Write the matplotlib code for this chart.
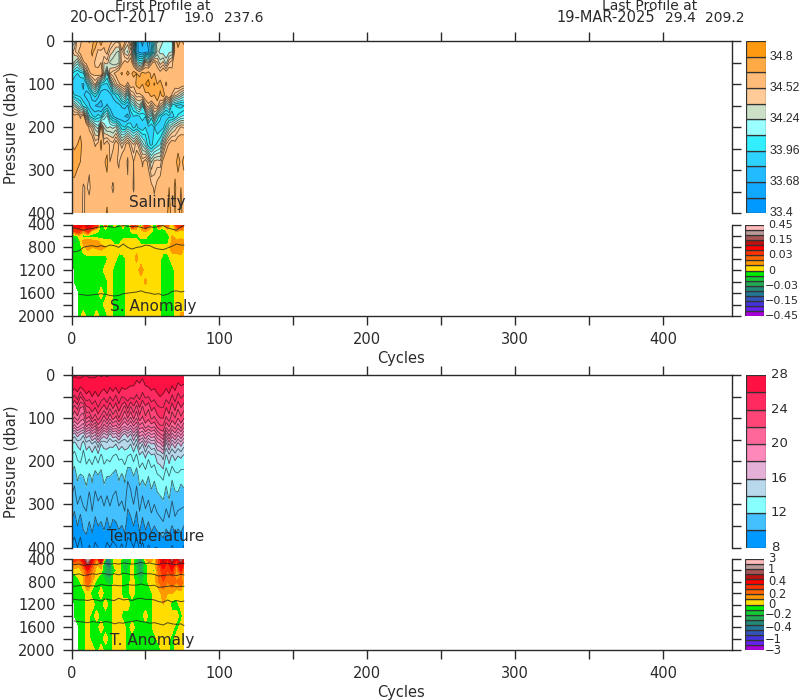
import numpy as np
import matplotlib
matplotlib.use('Agg')
import matplotlib.pyplot as plt

plt.rcParams['font.family'] = ['DejaVu Sans']

upper_cycles = list(range(0, 77, 2))
deep_cycles = [0, 2, 5, 8, 11, 14, 17, 20, 23, 26, 29, 32, 35, 38, 41, 44, 47, 50, 53, 56, 59, 62, 65, 68, 71, 74, 76]
salinity_depths = [0, 25, 50, 75, 100, 125, 150, 175, 200, 240, 280, 340, 400]
temperature_depths = [0, 25, 50, 75, 100, 120, 138, 160, 188, 235, 280, 340, 400]
deep_depths = [400, 500, 600, 700, 800, 1000, 1200, 1400, 1600, 1800, 2000]

salinity_by_cycle = [
 [34.25,34.35,34.45,34.05,33.95,33.98,34.40,34.60,34.62,34.66,34.72,34.62,34.62],
 [34.28,34.42,34.30,33.98,33.92,33.96,34.30,34.55,34.60,34.62,34.75,34.60,34.60],
 [34.50,34.50,34.20,33.96,33.90,33.94,34.20,34.62,34.58,34.66,34.70,34.56,34.66],
 [34.48,34.56,34.35,34.00,33.90,33.92,34.12,34.50,34.60,34.72,34.66,34.62,34.60],
 [34.60,34.62,34.50,34.02,33.88,33.90,34.00,34.60,34.55,34.58,34.64,34.50,34.48],
 [34.52,34.55,34.55,34.30,33.94,33.86,33.96,34.30,34.62,34.56,34.60,34.54,34.58],
 [34.68,34.56,34.58,34.50,34.10,33.86,33.90,34.05,34.50,34.62,34.56,34.48,34.62],
 [34.55,34.70,34.60,34.55,34.28,33.94,33.84,33.98,34.40,34.64,34.52,34.60,34.66],
 [34.82,34.58,34.50,34.55,34.40,34.00,33.82,33.94,34.28,34.50,34.66,34.58,34.60],
 [34.60,34.50,34.45,34.60,34.20,33.92,33.80,34.00,34.20,34.56,34.62,34.66,34.58],
 [34.78,34.48,34.52,34.62,33.98,33.84,33.80,33.96,34.55,34.70,34.58,34.54,34.64],
 [34.55,34.50,34.38,34.35,33.96,33.82,33.84,34.12,34.30,34.52,34.64,34.62,34.60],
 [34.62,34.55,34.42,34.10,33.95,33.84,33.90,34.20,34.22,34.60,34.70,34.60,34.68],
 [34.58,34.42,34.30,34.45,34.05,33.86,33.85,34.00,34.25,34.50,34.52,34.56,34.56],
 [34.50,34.38,34.26,34.50,34.30,33.92,33.82,33.90,34.22,34.48,34.60,34.50,34.60],
 [34.46,34.32,34.25,34.55,34.42,33.98,33.84,33.84,34.26,34.60,34.54,34.56,34.64],
 [34.48,34.30,34.30,34.62,34.50,34.05,33.86,33.82,34.10,34.52,34.50,34.58,34.58],
 [34.66,34.50,34.48,34.68,34.55,34.20,33.90,33.84,33.98,34.40,34.62,34.52,34.62],
 [34.55,34.34,34.56,34.60,34.60,34.30,33.92,33.82,33.96,34.50,34.58,34.62,34.52],
 [34.42,34.30,34.52,34.70,34.48,34.10,33.88,33.80,34.05,34.58,34.50,34.54,34.60],
 [34.60,34.42,34.60,34.62,34.60,34.36,34.02,33.90,34.00,34.46,34.66,34.60,34.56],
 [34.30,34.12,34.40,34.72,34.55,34.42,34.10,33.96,33.94,34.38,34.52,34.50,34.62],
 [33.80,33.78,34.20,34.66,34.70,34.50,34.24,33.92,33.98,34.50,34.56,34.64,34.56],
 [33.70,33.72,34.10,34.60,34.78,34.48,34.30,33.96,33.92,34.36,34.62,34.54,34.60],
 [33.66,33.70,34.12,34.72,34.66,34.55,34.10,34.00,33.90,34.22,34.50,34.60,34.66],
 [33.72,33.72,34.40,34.66,34.80,34.62,34.40,33.96,33.96,34.12,34.58,34.52,34.58],
 [33.78,33.74,34.30,34.72,34.86,34.60,34.50,34.20,33.94,33.98,34.48,34.62,34.60],
 [33.92,33.86,34.50,34.62,34.70,34.72,34.36,34.05,33.92,33.94,34.30,34.56,34.64],
 [34.10,34.05,34.55,34.66,34.82,34.66,34.50,34.30,33.96,34.00,34.40,34.50,34.58],
 [34.32,34.26,34.46,34.60,34.66,34.78,34.56,34.10,33.90,34.05,34.42,34.56,34.66],
 [34.28,34.22,34.34,34.56,34.72,34.62,34.42,33.98,33.92,34.10,34.40,34.62,34.60],
 [34.24,34.20,34.40,34.64,34.60,34.74,34.30,33.92,33.94,34.30,34.56,34.54,34.66],
 [34.20,34.18,34.28,34.58,34.68,34.56,34.12,33.90,34.06,34.46,34.62,34.60,34.62],
 [34.18,34.22,34.44,34.62,34.58,34.66,34.20,33.94,34.20,34.54,34.58,34.66,34.70],
 [34.16,34.24,34.50,34.54,34.66,34.50,34.00,33.92,34.28,34.60,34.66,34.60,34.62],
 [34.60,34.56,34.60,34.62,34.58,34.42,33.96,33.98,34.34,34.56,34.62,34.68,34.66],
 [34.72,34.62,34.52,34.66,34.64,34.36,33.94,34.05,34.40,34.62,34.70,34.60,34.64],
 [34.64,34.60,34.58,34.54,34.60,34.30,33.92,34.10,34.46,34.60,34.64,34.66,34.68],
 [34.70,34.58,34.62,34.60,34.58,34.22,33.96,34.12,34.44,34.62,34.68,34.62,34.62],
]

temperature_by_cycle = [
 [27.2,26.6,25.6,23.6,22.0,19.4,16.0,14.0,13.0,11.8,11.0,10.0,8.8],
 [27.1,26.4,24.8,22.6,20.8,18.4,15.4,13.6,12.6,11.4,10.6,9.6,8.6],
 [27.2,26.5,25.6,23.4,21.6,19.4,16.6,14.2,13.2,12.2,11.4,10.2,9.0],
 [27.3,26.2,24.0,22.0,20.6,18.8,15.8,14.4,13.6,11.8,11.0,9.6,8.6],
 [27.1,26.4,25.2,21.8,20.2,18.2,15.2,13.4,12.6,12.0,11.4,10.4,9.2],
 [27.0,26.6,25.8,23.8,22.2,20.0,16.8,14.6,13.4,12.4,11.6,10.6,9.4],
 [27.2,26.5,25.4,24.0,21.6,19.2,16.2,14.2,13.2,11.8,10.8,10.0,8.9],
 [27.1,26.7,26.0,24.6,23.2,20.6,17.8,15.0,13.6,12.2,11.6,10.6,9.2],
 [27.2,26.4,25.6,24.0,22.4,19.6,17.0,14.2,13.0,11.6,10.8,9.8,8.8],
 [27.0,26.6,26.0,25.0,23.4,21.6,18.8,15.6,13.6,11.9,11.2,10.2,9.0],
 [27.1,26.5,25.6,24.2,22.6,20.8,17.6,14.0,12.8,11.6,11.0,10.0,9.1],
 [27.0,26.3,25.2,23.6,21.4,19.4,16.4,14.4,13.4,12.4,11.4,10.4,9.2],
 [27.1,26.5,25.8,24.4,22.6,20.2,17.2,14.6,13.2,12.0,11.0,9.8,8.8],
 [27.0,26.2,25.0,23.2,21.2,18.8,15.6,14.2,13.4,12.0,11.4,10.4,9.0],
 [26.8,26.4,25.6,24.2,22.4,20.0,16.8,14.4,13.0,11.8,11.0,9.9,8.7],
 [26.9,26.2,24.8,23.4,21.6,19.6,16.6,14.0,12.8,11.6,10.8,10.0,8.9],
 [26.8,26.5,25.8,24.6,23.0,20.6,17.8,14.8,13.2,12.2,11.4,10.4,9.1],
 [26.7,26.2,25.0,23.6,22.0,19.4,16.4,14.2,13.2,11.8,11.2,10.2,8.8],
 [26.6,26.3,25.4,22.6,20.8,18.8,15.6,14.4,13.6,12.2,11.6,10.6,9.2],
 [26.5,26.1,25.6,24.2,22.0,19.6,16.6,14.6,13.0,11.2,10.4,9.6,8.6],
 [26.6,26.0,25.2,22.8,20.8,18.6,15.8,14.0,12.8,11.4,10.8,9.8,8.7],
 [26.4,26.0,25.4,23.8,22.2,19.8,17.4,15.2,13.4,12.0,11.4,10.2,9.0],
 [26.2,25.8,24.8,22.6,21.0,18.8,16.0,14.0,12.8,11.4,10.6,9.6,8.6],
 [26.3,25.9,25.4,24.0,22.6,20.6,18.6,16.0,13.8,12.4,11.6,10.6,9.1],
 [26.2,25.6,24.6,22.8,21.8,20.2,18.0,15.0,13.4,12.2,11.0,9.8,8.8],
 [26.4,26.0,25.2,23.8,22.8,21.4,19.2,16.6,14.2,12.4,11.6,10.4,9.2],
 [26.6,26.1,25.0,23.2,22.2,20.8,18.2,15.2,13.2,12.0,11.2,10.0,8.9],
 [26.7,26.3,25.6,24.4,23.2,21.4,19.0,16.0,13.8,12.4,11.8,10.6,9.1],
 [26.8,26.2,25.4,24.0,22.8,21.0,18.6,15.8,13.6,12.2,11.4,10.2,9.0],
 [26.9,26.4,25.8,24.8,23.6,22.2,20.0,17.4,14.6,12.8,11.8,10.6,9.0],
 [27.0,26.6,26.0,25.0,24.0,22.8,20.8,17.8,14.8,13.0,12.0,10.8,9.2],
 [26.9,26.5,25.8,25.0,24.0,22.8,21.4,18.8,15.4,13.2,12.2,11.0,9.4],
 [26.8,26.2,25.4,24.0,22.8,21.2,18.6,15.6,13.8,12.4,11.6,10.4,9.0],
 [26.9,26.5,25.8,24.6,23.6,22.0,20.4,17.4,14.6,13.0,12.2,10.8,9.2],
 [26.7,26.0,24.8,23.4,22.4,20.8,18.6,15.8,13.8,12.2,11.2,10.2,8.9],
 [26.8,26.3,25.6,24.4,23.0,21.6,19.6,16.8,14.4,12.6,11.8,10.8,9.1],
 [26.5,25.8,24.6,23.2,22.0,20.4,18.2,15.6,14.0,12.8,11.8,10.4,9.0],
 [26.4,26.0,25.2,24.0,22.8,21.4,19.2,16.4,14.2,12.4,11.4,10.6,9.2],
 [26.6,25.9,24.8,23.4,22.0,20.2,18.0,15.4,13.8,12.6,11.6,10.2,8.9],
]

nan = float('nan')
salinity_anomaly_by_cycle = [
 [0.06,0.03,-0.005,-0.005,-0.005,-0.005,nan,nan,nan,nan,nan],
 [0.09,0.04,-0.01,-0.015,-0.005,-0.005,-0.005,-0.005,nan,nan,nan],
 [0.12,0.05,0.005,-0.01,-0.005,-0.005,-0.005,-0.005,-0.005,-0.005,-0.005],
 [0.08,0.02,-0.005,0.015,0.005,-0.005,-0.005,-0.005,-0.005,-0.005,0.005],
 [0.15,0.05,-0.005,0.02,0.015,-0.005,-0.005,-0.005,-0.005,-0.005,-0.005],
 [0.10,0.01,-0.005,0.015,0.01,-0.005,-0.005,-0.005,-0.005,-0.005,-0.005],
 [0.05,0.005,-0.008,0.015,0.012,-0.005,-0.005,-0.005,-0.005,-0.005,0.005],
 [-0.02,-0.005,-0.005,0.005,0.015,-0.005,-0.005,-0.005,0.005,-0.005,-0.005],
 [0.03,-0.005,-0.008,0.005,0.01,-0.005,0.005,-0.005,-0.005,0.005,-0.005],
 [-0.03,-0.008,-0.008,0.005,0.005,0.005,0.005,0.005,0.005,0.005,0.005],
 [0.01,-0.008,-0.008,-0.005,0.005,0.005,-0.005,-0.005,-0.005,-0.005,-0.005],
 [-0.01,-0.008,-0.008,-0.005,0.005,-0.005,-0.005,-0.005,-0.005,-0.005,-0.005],
 [0.02,-0.008,-0.005,0.005,0.01,-0.005,-0.005,-0.005,-0.005,-0.005,-0.005],
 [-0.04,-0.008,-0.005,0.005,0.005,0.005,0.005,0.005,0.005,0.005,0.005],
 [0.06,0.005,-0.005,0.005,0.01,0.005,0.005,0.005,0.005,0.005,0.005],
 [0.03,0.005,-0.005,0.005,0.008,0.012,0.005,0.005,0.005,0.005,0.005],
 [-0.02,0.01,0.005,-0.005,0.005,0.005,0.015,0.005,0.005,0.005,0.005],
 [0.06,0.012,0.005,-0.005,0.005,0.005,0.005,0.012,0.005,0.005,0.005],
 [0.02,0.008,-0.005,-0.005,0.005,0.005,0.005,0.005,0.005,0.005,0.005],
 [-0.02,-0.005,-0.005,-0.005,0.005,0.005,0.005,0.005,0.005,0.005,0.005],
 [0.04,-0.005,-0.005,-0.005,0.005,0.005,0.005,0.005,0.005,0.005,0.005],
 [0.01,-0.005,-0.005,-0.005,0.005,-0.005,-0.005,-0.005,-0.005,-0.005,-0.005],
 [0.03,0.005,-0.005,-0.005,0.005,-0.005,-0.005,-0.005,-0.005,-0.005,-0.005],
 [-0.01,0.008,0.01,0.012,0.015,0.005,-0.005,-0.005,-0.005,-0.005,-0.005],
 [0.04,0.012,0.005,0.012,0.015,0.005,0.005,0.005,0.005,0.005,0.005],
 [0.06,0.01,0.005,0.015,0.02,0.005,0.005,0.005,0.005,0.005,0.012],
 [0.03,0.01,0.005,0.012,0.01,0.005,0.005,0.005,0.005,0.005,0.012],
]

temperature_anomaly_by_cycle = [
 [0.3,0.15,0.05,-0.05,0.05,-0.05,nan,nan,nan,nan,nan],
 [0.4,0.2,0.05,-0.05,-0.05,-0.05,-0.05,-0.05,nan,nan,nan],
 [0.3,0.15,0.05,0.05,-0.05,-0.05,-0.05,-0.05,-0.05,-0.05,-0.05],
 [0.5,0.3,0.15,0.1,0.1,-0.05,-0.05,-0.05,-0.05,-0.05,-0.05],
 [1.2,0.7,0.4,0.3,0.3,0.05,0.05,0.05,0.05,0.05,0.05],
 [0.5,0.3,0.2,0.15,0.1,-0.05,0.05,-0.05,-0.05,-0.05,0.05],
 [0.2,0.1,0.05,0.05,-0.05,-0.05,-0.05,0.05,-0.05,-0.05,-0.05],
 [0.8,0.2,0.05,-0.05,-0.05,0.05,-0.05,-0.05,0.05,-0.05,0.05],
 [-0.3,-0.3,-0.2,-0.2,-0.1,-0.05,0.05,-0.05,-0.05,0.05,-0.05],
 [-0.4,-0.35,-0.3,-0.25,-0.15,-0.05,-0.05,-0.05,-0.05,-0.05,-0.05],
 [0.05,0.05,-0.05,0.05,0.05,0.05,0.05,0.05,0.05,0.05,0.05],
 [0.1,0.05,0.05,0.05,0.05,0.05,0.05,0.05,0.05,0.05,0.05],
 [-0.1,-0.15,-0.1,-0.05,-0.05,-0.05,0.05,-0.05,0.05,0.05,0.05],
 [-0.2,-0.15,-0.1,-0.1,-0.05,-0.05,0.05,-0.05,-0.05,-0.05,-0.05],
 [0.05,0.05,0.05,0.05,0.05,0.05,-0.05,-0.05,0.05,-0.05,-0.05],
 [-0.15,-0.2,-0.15,-0.1,-0.05,-0.05,-0.05,-0.05,-0.05,-0.05,-0.05],
 [-0.4,-0.35,-0.3,-0.25,-0.15,-0.05,-0.05,-0.05,-0.05,-0.05,-0.05],
 [0.1,-0.05,-0.05,-0.05,-0.05,-0.05,-0.05,0.05,-0.05,-0.05,-0.05],
 [0.2,0.05,0.05,0.05,0.05,-0.05,-0.05,-0.05,-0.05,-0.05,-0.05],
 [0.05,0.05,-0.05,0.05,0.05,0.05,0.05,0.05,0.05,-0.05,-0.05],
 [0.3,0.3,0.25,0.2,0.2,0.05,0.05,0.05,0.05,0.05,-0.05],
 [0.7,0.5,0.35,0.35,0.3,0.15,0.1,0.1,0.05,0.05,0.05],
 [0.4,0.3,0.3,0.25,0.2,0.1,0.05,0.1,0.05,0.05,0.05],
 [0.9,0.6,0.4,0.3,0.3,0.1,-0.05,0.05,0.05,-0.05,-0.05],
 [0.4,0.2,0.15,0.1,0.2,0.05,-0.05,0.05,-0.05,0.05,0.05],
 [1.0,0.6,0.4,0.2,0.3,0.05,0.05,-0.05,0.05,0.05,0.05],
 [0.5,0.3,0.2,0.15,0.1,0.05,0.05,0.05,0.05,-0.05,0.05],
]

salinity_deep_contours = [
 [470,460,480,500,480,470,450,440,430,440,450,430,420,430,440,430,450,470,440,450,430,420,460,480,500,440,420],
 [860,880,860,800,780,770,790,770,790,760,770,800,740,800,830,800,790,760,770,810,830,840,810,780,740,760,760],
 [nan,nan,1620,1630,1640,1630,1620,1610,1620,1640,1650,1640,1610,1600,1590,1580,1560,1590,1600,1620,1610,1640,1620,1570,1560,1580,1570],
]
temperature_deep_contours = [
 [500,500,490,510,500,490,500,470,480,490,480,490,470,480,490,480,460,480,470,490,500,470,480,490,500,470,480],
 [670,680,660,690,680,660,670,650,660,680,660,680,650,660,680,670,640,660,660,670,700,690,680,680,690,670,680],
 [870,880,870,860,880,870,880,850,860,870,860,870,870,850,860,860,840,860,870,860,900,890,880,870,890,880,880],
 [1110,1110,1120,1120,1130,1110,1120,1140,1100,1120,1130,1090,1120,1110,1130,1100,1090,1110,1110,1120,1150,1160,1120,1160,1130,1150,1140],
 [nan,1490,1500,1510,1520,1500,1510,1520,1500,1510,1540,1520,1530,1510,1500,1480,1500,1510,1530,1520,1540,1560,1520,1540,1550,1540,1570],
]

salinity_levels = [33.4, 33.54, 33.68, 33.82, 33.96, 34.1, 34.24, 34.38, 34.52, 34.66, 34.8, 34.94]
salinity_lines = [33.47, 33.54, 33.61, 33.68, 33.75, 33.82, 33.89, 33.96, 34.03, 34.1, 34.17, 34.24, 34.31, 34.38, 34.45, 34.52, 34.66, 34.8]
salinity_colors = ['#0099ff', '#11a8ff', '#22bbff', '#2dd2ff', '#33eeff', '#99ffff', '#cce0c8', '#ffcc99', '#ffbb77', '#ffaa44', '#ff9911']
temperature_levels = [8, 10, 12, 14, 16, 18, 20, 22, 24, 26, 28]
temperature_lines = list(range(8, 29))
temperature_colors = ['#0099ff', '#44c0ff', '#88ffff', '#b8d8ec', '#e5b0d8', '#ff88bb', '#ff6699', '#ff4477', '#ff2a60', '#ff1144']
anomaly_colors = ['#aa00dd', '#6622ee', '#4433dd', '#3355bb', '#227799', '#228877', '#22aa55', '#11cc33', '#00ee00',
                  '#ffdd00', '#ff9900', '#ff6600', '#ff3300', '#ff0000', '#bb1111', '#aa5555', '#bb9999', '#ffbbbb']
salinity_anomaly_levels = [-.45, -.35, -.25, -.15, -.11, -.07, -.03, -.02, -.01, 0, .01, .02, .03, .07, .11, .15, .25, .35, .45]
temperature_anomaly_levels = [-3, -2, -1, -.8, -.6, -.4, -.3, -.2, -.1, 0, .1, .2, .3, .4, .6, .8, 1, 2, 3]

salinity_ticks = ['33.4', '33.68', '33.96', '34.24', '34.52', '34.8']
temperature_ticks = ['8', '12', '16', '20', '24', '28']
salinity_anomaly_ticks = ['0.45', '0.15', '0.03', '0', '\u22120.03', '\u22120.15', '\u22120.45']
temperature_anomaly_ticks = ['3', '1', '0.4', '0.2', '0', '\u22120.2', '\u22120.4', '\u22121', '\u22123']

W, H = 800, 700
fig = plt.figure(figsize=(8, 7), dpi=100)
INK = '#2a2a2a'


def box(x0, y0, x1, y1):
    return fig.add_axes([x0 / W, 1 - y1 / H, (x1 - x0) / W, (y1 - y0) / H])


def label(x, y, s, ha='center', size=10, rot=0, family='DejaVu Sans'):
    fig.text(x / W, 1 - y / H, s, ha=ha, va='center', fontsize=size, rotation=rot, color=INK, family=family)


def base(ax, ymin, ymax, major, minor, top):
    ax.set_xlim(0, 446.6)
    ax.set_ylim(ymax, ymin)
    ax.set_yticks(major)
    ax.set_yticks(minor, minor=True)
    ax.tick_params(axis='y', which='both', length=6.3, width=1, left=True, right=True,
                   labelsize=10.5, labelcolor=INK, color=INK, pad=5)
    ax.tick_params(axis='x', which='both', length=6.3, width=1, color=INK, labelsize=10.5, labelcolor=INK, pad=5,
                   top=top, bottom=not top, labeltop=False, labelbottom=not top)
    ax.set_xticks(range(0, 401, 50))
    ax.set_xticklabels(['' if v % 100 else str(v) for v in range(0, 401, 50)])
    for sp in ax.spines.values():
        sp.set_color(INK)
        sp.set_linewidth(1)
    ax.spines['bottom' if top else 'top'].set_visible(False)


def upper(y0, y1, depths, grid, levels, colors, lines, name, name_x, name_y):
    ax = box(71.5, y0, 732, y1)
    z = np.array(grid).T
    c = np.clip(z, levels[0], levels[-1] - 1e-6)
    ax.contourf(upper_cycles, depths, c, levels=levels, colors=colors)
    ax.contour(upper_cycles, depths, z, levels=lines, colors='#111111', linewidths=0.6, alpha=0.65)
    base(ax, 0, 400, [0, 100, 200, 300, 400], [50, 150, 250, 350], True)
    ax.set_yticklabels(['0', '100', '200', '300', '400'])
    label(name_x, name_y, name, ha='left', size=11)
    return ax


def lower(y0, y1, grid, levels, contours, name, name_y):
    ax = box(71.5, y0, 732, y1)
    z = np.ma.masked_invalid(np.array(grid).T)
    c = np.ma.clip(z, levels[0], levels[-1] - 1e-6)
    ax.contourf(deep_cycles, deep_depths, c, levels=levels, colors=anomaly_colors)
    for line in contours:
        ax.plot(deep_cycles, line, color='#222222', lw=0.7, alpha=0.8)
    base(ax, 400, 2000, [400, 800, 1200, 1600, 2000], [600, 1000, 1400, 1800], False)
    ax.set_yticklabels(['400', '800', '1200', '1600', '2000'])
    label(110, name_y, name, ha='left', size=11)
    return ax


def colorbar(x0, x1, y0, y1, colors, texts, positions, text_x, size, family='DejaVu Sans'):
    ax = box(x0, y0, x1, y1)
    n = len(colors)
    ax.bar([0.5] * n, [1] * n, width=1, bottom=range(n), color=colors, edgecolor='#333333', linewidth=0.9)
    ax.set_xlim(0, 1)
    ax.set_ylim(0, n)
    ax.axis('off')
    for s, p in zip(texts, positions):
        label(text_x - (3 if s.startswith('\u2212') else 0), y1 - (y1 - y0) * p / n, s, ha='left', size=size, family=family)


upper(41, 213.5, salinity_depths, salinity_by_cycle, salinity_levels, salinity_colors,
      salinity_lines, 'Salinity', 129, 202)
lower(224.5, 316, salinity_anomaly_by_cycle, salinity_anomaly_levels, salinity_deep_contours, 'S. Anomaly', 306)
upper(375, 547.5, temperature_depths, temperature_by_cycle, temperature_levels, temperature_colors,
      temperature_lines, 'Temperature', 107, 537)
lower(559, 650, temperature_anomaly_by_cycle, temperature_anomaly_levels, temperature_deep_contours, 'T. Anomaly', 640)

colorbar(746, 766, 41, 213.5, salinity_colors, salinity_ticks, [0, 2, 4, 6, 8, 10], 770, 8.8, 'Liberation Sans')
colorbar(745, 764, 225, 316, anomaly_colors, salinity_anomaly_ticks, [18, 15, 12, 9, 6, 3, 0], 768, 8)
colorbar(746, 766, 375, 547.5, temperature_colors, temperature_ticks, [0, 2, 4, 6, 8, 10], 771, 9.5)
colorbar(745, 764, 559, 650, anomaly_colors, temperature_anomaly_ticks, [18, 16, 13.5, 11, 9, 7, 4.5, 2, 0], 768, 8.3)

label(11, 128, 'Pressure (dbar)', size=10.5, rot=90)
label(11, 462, 'Pressure (dbar)', size=10.5, rot=90)
label(401, 358, 'Cycles', size=10.5)
label(401, 692, 'Cycles', size=10.5)
label(163, 6, 'First Profile at', size=10)
label(118, 18, '20-OCT-2017', size=10.5)
label(199, 18, '19.0', size=10)
label(244, 18, '237.6', size=10)
label(650, 6, 'Last Profile at', size=10)
label(606, 18, '19-MAR-2025', size=10.5)
label(680, 18, '29.4', size=10)
label(725, 18, '209.2', size=10)

fig.savefig('out.png', dpi=100)
